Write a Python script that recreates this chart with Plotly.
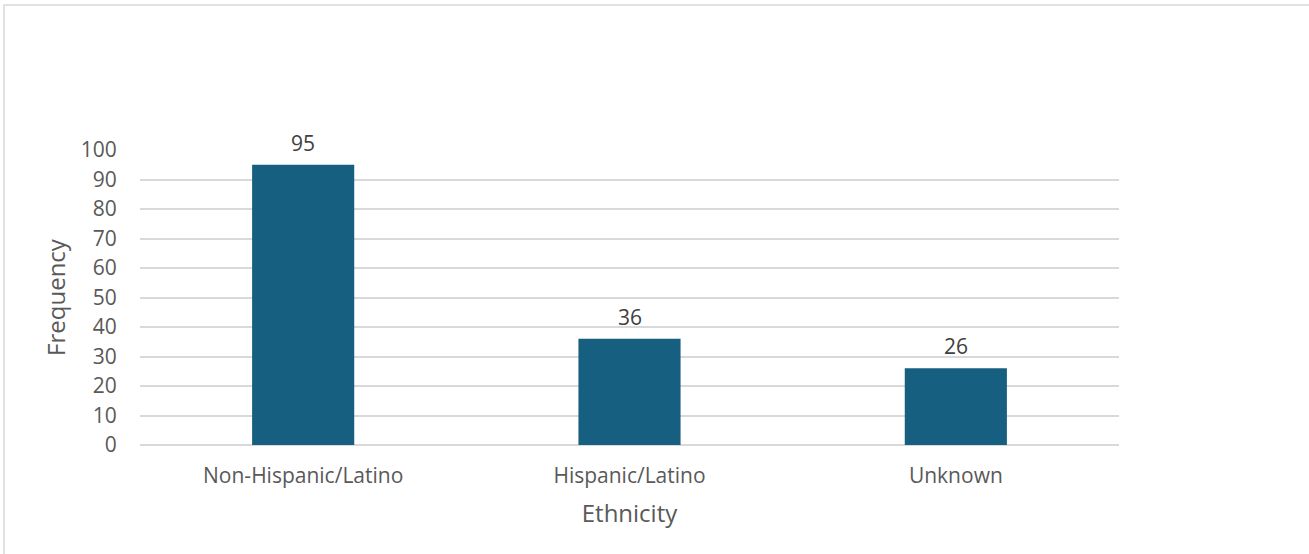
import plotly.graph_objects as go

categories = ["Non-Hispanic/Latino", "Hispanic/Latino", "Unknown"]
values = [95, 36, 26]
y_ticks = [0, 10, 20, 30, 40, 50, 60, 70, 80, 90, 100]

W, H = 1309, 554
L, R, T, B = 140, 190, 150, 109
pw, ph = W - L - R, H - T - B
FONT = "Open Sans, sans-serif"
TXT = "#595959"

fig = go.Figure(go.Bar(
    x=categories, y=values, marker_color="#175F80", width=0.313,
    marker_line_width=0,
))

for c, v in zip(categories, values):
    fig.add_annotation(x=c, y=v, text=str(v), showarrow=False, yanchor="bottom",
                       yshift=6, font=dict(size=21, color="#404040", family=FONT))

def px_x(p):
    return (p - L) / pw

def px_y(p):
    return 1 - (p - T) / ph

fig.add_shape(type="rect", xref="paper", yref="paper",
              x0=px_x(4), x1=px_x(1314), y0=px_y(5), y1=px_y(560),
              line=dict(color="#D9D9D9", width=1.5), fillcolor="rgba(0,0,0,0)", layer="below")

fig.update_layout(
    width=W, height=H,
    margin=dict(l=L, r=R, t=T, b=B, pad=0),
    paper_bgcolor="white", plot_bgcolor="white",
    showlegend=False,
    font=dict(family=FONT, color=TXT, size=21),
    bargap=0.687,
)
fig.update_xaxes(
    title=dict(text="Ethnicity", font=dict(size=24, color=TXT), standoff=16),
    tickfont=dict(size=21, color=TXT), showgrid=False, showline=False,
    ticks="outside", ticklen=12, tickcolor="rgba(0,0,0,0)",
)
fig.update_yaxes(
    range=[0, 100], tickvals=y_ticks, showgrid=True, gridcolor="#D9D9D9", gridwidth=1.5,
    zeroline=True, zerolinecolor="#D9D9D9", zerolinewidth=1.5,
    tickfont=dict(size=21, color=TXT), ticks="outside", ticklen=18, tickcolor="rgba(0,0,0,0)",
    title=dict(text="Frequency", font=dict(size=24, color=TXT), standoff=8),
)

fig.write_html("out.html")
